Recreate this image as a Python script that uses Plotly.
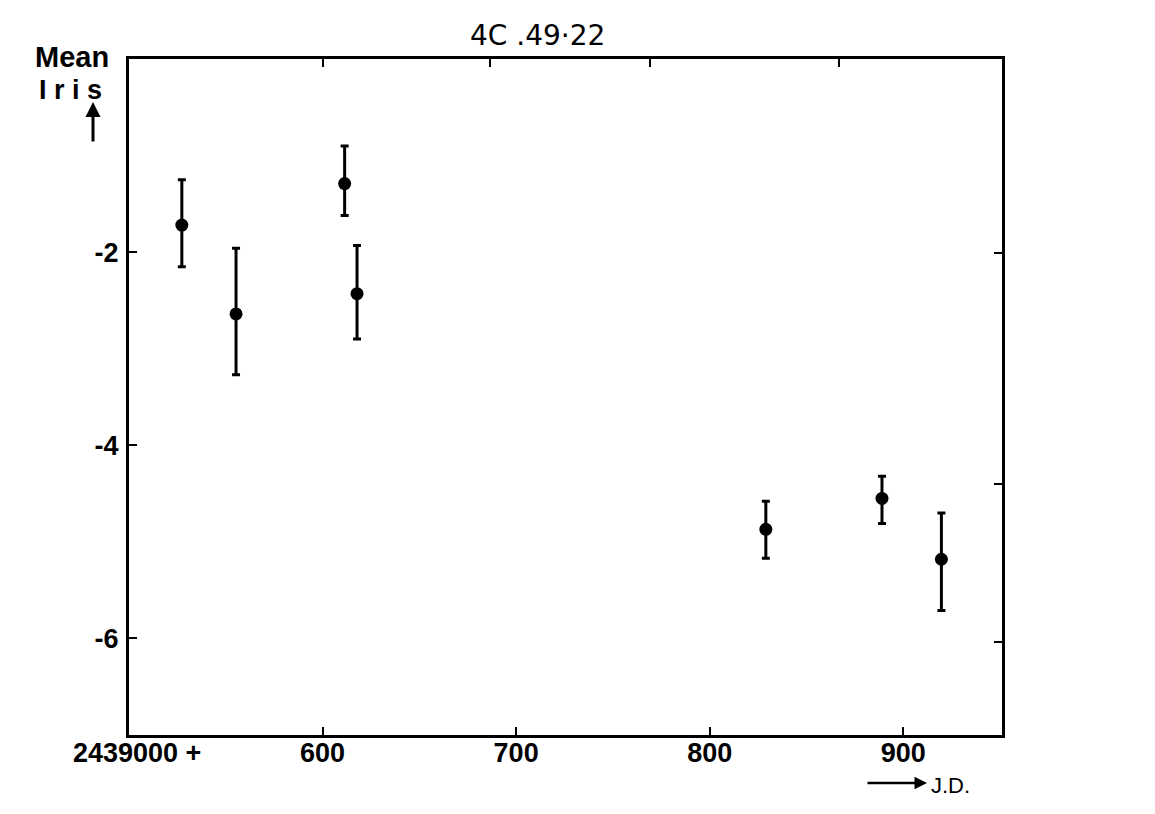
import plotly.graph_objects as go

# Julian date offset (2439000 +) and mean iris readings with error bar ends
jd = [527.3, 555.3, 611.4, 617.8, 829.0, 889.0, 919.7]
iris = [-1.72, -2.64, -1.29, -2.43, -4.87, -4.55, -5.18]
iris_hi = [-1.25, -1.96, -0.90, -1.93, -4.58, -4.32, -4.70]
iris_lo = [-2.15, -3.27, -1.62, -2.90, -5.17, -4.81, -5.71]

x_ticks = [600, 700, 800, 900]
y_ticks = [-2, -4, -6]
y_ticklabels = ["-2", "-4", "-6"]
top_ticks = [600, 686.5, 769.4, 866.8]
right_ticks = [-2.01, -4.40, -6.04]

err_up = [h - v for h, v in zip(iris_hi, iris)]
err_dn = [v - l for v, l in zip(iris, iris_lo)]

# the page body adds an 8px margin, so the figure is shrunk by that much
PAGE_OFF = 8
W, H = 1155 - PAGE_OFF, 814 - PAGE_OFF
L, T, PW, PH = 121, 51, 873, 676
R, B = W - L - PW, H - T - PH


def px(x):
    return (x - PAGE_OFF - L) / PW


def py(y):
    return 1 - (y - PAGE_OFF - T) / PH


lab_font = dict(family="Liberation Sans, Arial, sans-serif",
                size=27, color="black", weight="bold")

fig = go.Figure()
fig.add_trace(go.Scatter(
    x=jd, y=iris, mode="markers",
    marker=dict(color="black", size=13),
    error_y=dict(type="data", symmetric=False, array=err_up, arrayminus=err_dn,
                 color="black", thickness=3, width=4),
    showlegend=False))
# empty trace so the top/right tick axes get drawn
fig.add_trace(go.Scatter(x=[], y=[], xaxis="x2", yaxis="y2", showlegend=False))

fig.update_layout(
    width=W, height=H,
    paper_bgcolor="white", plot_bgcolor="white",
    margin=dict(l=L, r=R, t=T, b=B),
    xaxis=dict(range=[500, 951], tickvals=x_ticks, ticks="inside", ticklen=8,
               tickwidth=2, tickcolor="black", showline=True, linecolor="black",
               linewidth=3, mirror=True, showgrid=False, zeroline=False,
               tickfont=lab_font, ticklabelstandoff=-8, automargin=False),
    yaxis=dict(range=[-7, 0], tickvals=y_ticks, ticktext=y_ticklabels,
               ticks="inside", ticklen=8, tickwidth=2, tickcolor="black",
               showline=True, linecolor="black", linewidth=3, mirror=True,
               showgrid=False, zeroline=False, tickfont=lab_font,
               ticklabelstandoff=2, automargin=False),
    xaxis2=dict(overlaying="x", side="top", range=[500, 951], tickvals=top_ticks,
                ticks="inside", ticklen=8, tickwidth=2, tickcolor="black",
                showticklabels=False, showgrid=False, zeroline=False),
    yaxis2=dict(overlaying="y", side="right", range=[-7, 0], tickvals=right_ticks,
                ticks="inside", ticklen=8, tickwidth=2, tickcolor="black",
                showticklabels=False, showgrid=False, zeroline=False),
)

fig.add_annotation(text="4C .49·22", xref="paper", yref="paper",
                   x=px(537), y=py(35), showarrow=False,
                   xanchor="center", yanchor="middle",
                   font=dict(family="DejaVu Sans, sans-serif", size=28,
                             color="black"))

bold_font = dict(family="Liberation Sans, Arial, sans-serif", size=29,
                 color="black", weight="bold")
fig.add_annotation(text="Mean", xref="paper", yref="paper", x=px(72), y=py(57),
                   showarrow=False, xanchor="center", yanchor="middle",
                   font=bold_font)
fig.add_annotation(text="I r i s", xref="paper", yref="paper", x=px(70), y=py(90),
                   showarrow=False, xanchor="center", yanchor="middle",
                   font=dict(bold_font, size=27))
fig.add_annotation(text="", xref="paper", yref="paper", x=px(93), y=py(102),
                   ax=0, ay=41, showarrow=True, arrowhead=2, arrowsize=1,
                   arrowwidth=3, arrowcolor="black")

fig.add_annotation(text="2439000 +", xref="paper", yref="paper", x=px(137),
                   y=py(753), showarrow=False, xanchor="center",
                   yanchor="middle", font=lab_font)

fig.add_annotation(text="J.D.", xref="paper", yref="paper", x=px(929), y=py(785),
                   showarrow=False, xanchor="left", yanchor="middle",
                   font=dict(family="Liberation Sans, Arial, sans-serif", size=22,
                             color="black"))
fig.add_annotation(text="", xref="paper", yref="paper", x=px(927), y=py(783),
                   ax=-61, ay=0, showarrow=True, arrowhead=2,
                   arrowsize=1, arrowwidth=2.5, arrowcolor="black")

fig.write_html("out.html")
